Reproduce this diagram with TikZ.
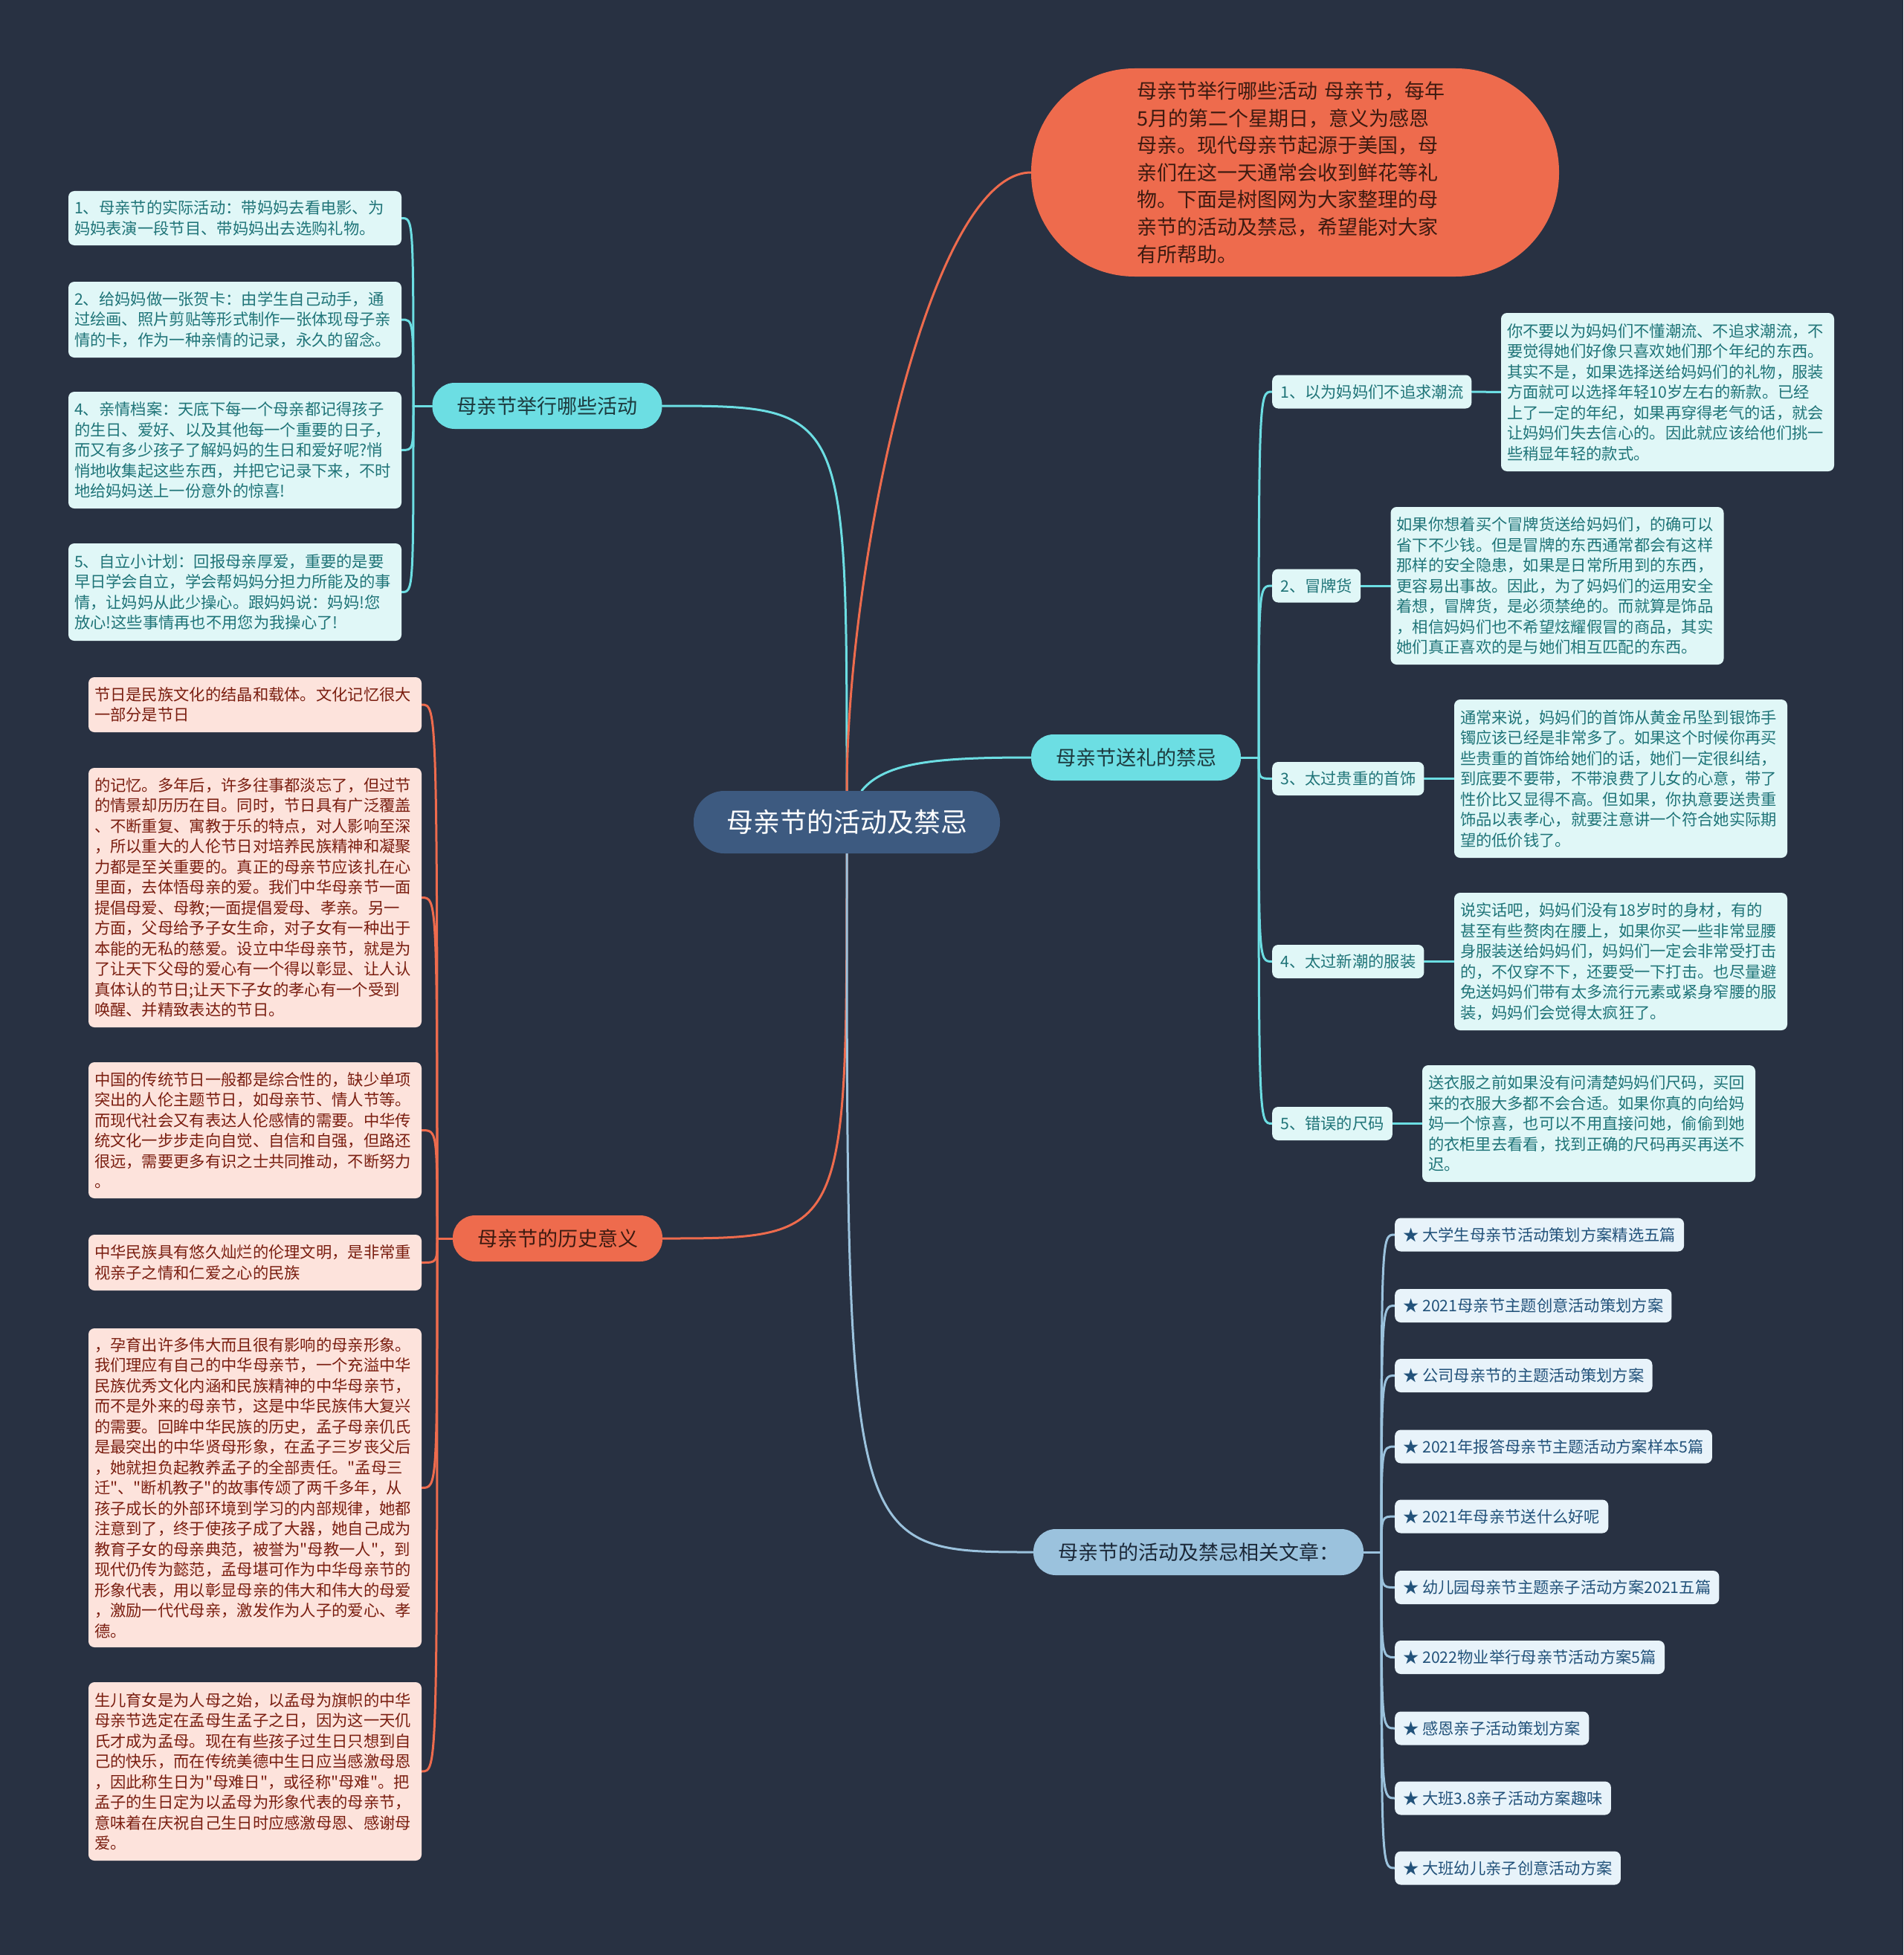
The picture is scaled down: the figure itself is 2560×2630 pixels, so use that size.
\documentclass[tikz,border=0pt]{standalone}
\usepackage{fontspec}
\setmainfont{Noto Sans CJK SC}[Ligatures=TeXOff]
\definecolor{bgc}{HTML}{283142}
\definecolor{centerfill}{HTML}{3D5A80}
\definecolor{cyanB}{HTML}{6CDEE3}
\definecolor{cyanT}{HTML}{1C3A3E}
\definecolor{leafCfill}{HTML}{E0F7F7}
\definecolor{leafCtext}{HTML}{1F7478}
\definecolor{orangeB}{HTML}{EE6B4D}
\definecolor{orangeT}{HTML}{3D1A10}
\definecolor{leafOfill}{HTML}{FDE3DC}
\definecolor{leafOtext}{HTML}{7A1E10}
\definecolor{blueB}{HTML}{9BC2DD}
\definecolor{blueT}{HTML}{1B2838}
\definecolor{artfill}{HTML}{E8F3FA}
\definecolor{arttext}{HTML}{22527A}
\pgfdeclarelayer{lines}
\pgfsetlayers{lines,main}
\tikzset{
  conn/.style={line width=3pt, line cap=round},
  lineC/.style={conn, draw=cyanB},
  lineO/.style={conn, draw=orangeB},
  lineB/.style={conn, draw=blueB},
  mainnode/.style={fill=centerfill, text=white, rounded corners=41pt, minimum height=84pt, inner xsep=44pt, inner ysep=0pt, font=\fontsize{36}{40}\selectfont},
  pill/.style={rounded corners=30pt, minimum height=62pt, inner xsep=33pt, inner ysep=0pt, font=\fontsize{27}{30}\selectfont},
  branchC/.style={pill, fill=cyanB, text=cyanT},
  branchO/.style={pill, fill=orangeB, text=orangeT},
  branchB/.style={pill, fill=blueB, text=blueT},
  bubble/.style={fill=orangeB, text=orangeT, rounded corners=139pt, minimum width=710pt, minimum height=280pt, text width=425pt, align=left, inner sep=0pt, font=\fontsize{27}{36.6}\selectfont},
  leafbox/.style={rounded corners=8pt, text width=432pt, align=left, inner xsep=8pt, inner ysep=0pt, font=\fontsize{21.3}{27.5}\selectfont},
  leafC/.style={leafbox, fill=leafCfill, text=leafCtext},
  leafO/.style={leafbox, fill=leafOfill, text=leafOtext},
  smallbox/.style={rounded corners=8pt, inner xsep=11pt, inner ysep=0pt, minimum height=45pt, anchor=west, font=\fontsize{21.3}{25}\selectfont},
  subC/.style={smallbox, fill=leafCfill, text=leafCtext},
  artB/.style={smallbox, fill=artfill, text=arttext},
}
\begin{document}
\begin{tikzpicture}[x=1pt,y=-1pt]
% ---------- nodes ----------
\node[mainnode] (c) at (1139,1106) {母亲节的活动及禁忌};

\node[bubble] (bub) at (1742,232) {母亲节举行哪些活动 母亲节，每年\\5月的第二个星期日，意义为感恩\\母亲。现代母亲节起源于美国，母\\亲们在这一天通常会收到鲜花等礼\\物。下面是树图网为大家整理的母\\亲节的活动及禁忌，希望能对大家\\有所帮助。};

\node[branchC] (b1) at (736,546) {母亲节举行哪些活动};
\node[branchC] (b2) at (1528,1019) {母亲节送礼的禁忌};
\node[branchO] (b3) at (750,1666) {母亲节的历史意义};
\node[branchB] (b4) at (1612,2088) {母亲节的活动及禁忌相关文章：};

% left cyan leaves
\node[leafC, minimum height=73pt] (l1) at (316,293.5) {1、母亲节的实际活动：带妈妈去看电影、为\\妈妈表演一段节目、带妈妈出去选购礼物。};
\node[leafC, minimum height=102pt] (l2) at (316,430) {2、给妈妈做一张贺卡：由学生自己动手，通\\过绘画、照片剪贴等形式制作一张体现母子亲\\情的卡，作为一种亲情的记录，永久的留念。};
\node[leafC, minimum height=157pt] (l3) at (316,605.5) {4、亲情档案：天底下每一个母亲都记得孩子\\的生日、爱好、以及其他每一个重要的日子，\\而又有多少孩子了解妈妈的生日和爱好呢?悄\\悄地收集起这些东西，并把它记录下来，不时\\地给妈妈送上一份意外的惊喜!};
\node[leafC, minimum height=131pt] (l4) at (316,796.5) {5、自立小计划：回报母亲厚爱，重要的是要\\早日学会自立，学会帮妈妈分担力所能及的事\\情，让妈妈从此少操心。跟妈妈说：妈妈!您\\放心!这些事情再也不用您为我操心了!};

% left orange leaves
\node[leafO, minimum height=74pt] (o1) at (343,948) {节日是民族文化的结晶和载体。文化记忆很大\\一部分是节日};
\node[leafO, minimum height=349pt] (o2) at (343,1207.5) {的记忆。多年后，许多往事都淡忘了，但过节\\的情景却历历在目。同时，节日具有广泛覆盖\\、不断重复、寓教于乐的特点，对人影响至深\\，所以重大的人伦节日对培养民族精神和凝聚\\力都是至关重要的。真正的母亲节应该扎在心\\里面，去体悟母亲的爱。我们中华母亲节一面\\提倡母爱、母教;一面提倡爱母、孝亲。另一\\方面，父母给予子女生命，对子女有一种出于\\本能的无私的慈爱。设立中华母亲节，就是为\\了让天下父母的爱心有一个得以彰显、让人认\\真体认的节日;让天下子女的孝心有一个受到\\唤醒、并精致表达的节日。};
\node[leafO, minimum height=183pt] (o3) at (343,1520.5) {中国的传统节日一般都是综合性的，缺少单项\\突出的人伦主题节日，如母亲节、情人节等。\\而现代社会又有表达人伦感情的需要。中华传\\统文化一步步走向自觉、自信和自强，但路还\\很远，需要更多有识之士共同推动，不断努力\\。};
\node[leafO, minimum height=75pt] (o4) at (343,1698.5) {中华民族具有悠久灿烂的伦理文明，是非常重\\视亲子之情和仁爱之心的民族};
\node[leafO, minimum height=429pt] (o5) at (343,2001.5) {，孕育出许多伟大而且很有影响的母亲形象。\\我们理应有自己的中华母亲节，一个充溢中华\\民族优秀文化内涵和民族精神的中华母亲节，\\而不是外来的母亲节，这是中华民族伟大复兴\\的需要。回眸中华民族的历史，孟子母亲仉氏\\是最突出的中华贤母形象，在孟子三岁丧父后\\，她就担负起教养孟子的全部责任。"孟母三\\迁"、"断机教子"的故事传颂了两千多年，从\\孩子成长的外部环境到学习的内部规律，她都\\注意到了，终于使孩子成了大器，她自己成为\\教育子女的母亲典范，被誉为"母教一人"，到\\现代仍传为懿范，孟母堪可作为中华母亲节的\\形象代表，用以彰显母亲的伟大和伟大的母爱\\，激励一代代母亲，激发作为人子的爱心、孝\\德。};
\node[leafO, minimum height=240pt] (o6) at (343,2383) {生儿育女是为人母之始，以孟母为旗帜的中华\\母亲节选定在孟母生孟子之日，因为这一天仉\\氏才成为孟母。现在有些孩子过生日只想到自\\己的快乐，而在传统美德中生日应当感激母恩\\，因此称生日为"母难日"，或径称"母难"。把\\孟子的生日定为以孟母为形象代表的母亲节，\\意味着在庆祝自己生日时应感激母恩、感谢母\\爱。};

% right cyan sub-branches
\node[subC] (s1) at (1711,527) {1、以为妈妈们不追求潮流};
\node[subC] (s2) at (1711,788) {2、冒牌货};
\node[subC] (s3) at (1711,1047.5) {3、太过贵重的首饰};
\node[subC] (s4) at (1711,1293.5) {4、太过新潮的服装};
\node[subC] (s5) at (1711,1511.5) {5、错误的尺码};

% detail boxes
\node[leafC, minimum height=213pt] (d1) at (2243,527.5) {你不要以为妈妈们不懂潮流、不追求潮流，不\\要觉得她们好像只喜欢她们那个年纪的东西。\\其实不是，如果选择送给妈妈们的礼物，服装\\方面就可以选择年轻10岁左右的新款。已经\\上了一定的年纪，如果再穿得老气的话，就会\\让妈妈们失去信心的。因此就应该给他们挑一\\些稍显年轻的款式。};
\node[leafC, minimum height=212pt] (d2) at (2094.5,788) {如果你想着买个冒牌货送给妈妈们，的确可以\\省下不少钱。但是冒牌的东西通常都会有这样\\那样的安全隐患，如果是日常所用到的东西，\\更容易出事故。因此，为了妈妈们的运用安全\\着想，冒牌货，是必须禁绝的。而就算是饰品\\，相信妈妈们也不希望炫耀假冒的商品，其实\\她们真正喜欢的是与她们相互匹配的东西。};
\node[leafC, minimum height=213pt] (d3) at (2180,1047.5) {通常来说，妈妈们的首饰从黄金吊坠到银饰手\\镯应该已经是非常多了。如果这个时候你再买\\些贵重的首饰给她们的话，她们一定很纠结，\\到底要不要带，不带浪费了儿女的心意，带了\\性价比又显得不高。但如果，你执意要送贵重\\饰品以表孝心，就要注意讲一个符合她实际期\\望的低价钱了。};
\node[leafC, minimum height=185pt] (d4) at (2180,1293.5) {说实话吧，妈妈们没有18岁时的身材，有的\\甚至有些赘肉在腰上，如果你买一些非常显腰\\身服装送给妈妈们，妈妈们一定会非常受打击\\的，不仅穿不下，还要受一下打击。也尽量避\\免送妈妈们带有太多流行元素或紧身窄腰的服\\装，妈妈们会觉得太疯狂了。};
\node[leafC, minimum height=157pt] (d5) at (2137,1511.5) {送衣服之前如果没有问清楚妈妈们尺码，买回\\来的衣服大多都不会合适。如果你真的向给妈\\妈一个惊喜，也可以不用直接问她，偷偷到她\\的衣柜里去看看，找到正确的尺码再买再送不\\迟。};

% articles
\node[artB] (a1) at (1876,1661) {★ 大学生母亲节活动策划方案精选五篇};
\node[artB] (a2) at (1876,1756.5) {★ 2021母亲节主题创意活动策划方案};
\node[artB] (a3) at (1876,1850.5) {★ 公司母亲节的主题活动策划方案};
\node[artB] (a4) at (1876,1946) {★ 2021年报答母亲节主题活动方案样本5篇};
\node[artB] (a5) at (1876,2040) {★ 2021年母亲节送什么好呢};
\node[artB] (a6) at (1876,2135.5) {★ 幼儿园母亲节主题亲子活动方案2021五篇};
\node[artB] (a7) at (1876,2229.5) {★ 2022物业举行母亲节活动方案5篇};
\node[artB] (a8) at (1876,2325) {★ 感恩亲子活动策划方案};
\node[artB] (a9) at (1876,2419) {★ 大班3.8亲子活动方案趣味};
\node[artB] (a10) at (1876,2513) {★ 大班幼儿亲子创意活动方案};

% junction points
\coordinate (j1) at (556,546);
\coordinate (j3) at (588,1666);
\coordinate (j2) at (1693,1019);
\coordinate (j4) at (1858,2088);

% ---------- connectors ----------
\begin{pgfonlayer}{lines}
\fill[bgc] (0,0) rectangle (2560,2630);
\draw[lineC] (c.north) .. controls (c.north |- b1.east) .. (b1.east);
\draw[lineO] (c.north) .. controls (1139,760) and (1250,232) .. (bub.west);
\draw[lineC] ([xshift=20pt]c.north) .. controls (1190,1025) and (1260,1019) .. (b2.west);
\draw[lineO] (c.south) .. controls (c.south |- b3.east) .. (b3.east);
\draw[lineB] (c.south) .. controls (c.south |- b4.west) .. (b4.west);

\draw[lineC] (b1.west) -- (j1);
\foreach \n in {l1,l2,l3,l4}
  \draw[lineC] (j1) .. controls (j1 |- \n.east) .. (\n.east);

\draw[lineO] (b3.west) -- (j3);
\foreach \n in {o1,o2,o3,o4,o5,o6}
  \draw[lineO] (j3) .. controls (j3 |- \n.east) .. (\n.east);

\draw[lineC] (b2.east) -- (j2);
\foreach \n in {s1,s2,s3,s4,s5}
  \draw[lineC] (j2) .. controls (j2 |- \n.west) .. (\n.west);
\draw[lineC] (s1.east) -- (d1.west);
\draw[lineC] (s2.east) -- (d2.west);
\draw[lineC] (s3.east) -- (d3.west);
\draw[lineC] (s4.east) -- (d4.west);
\draw[lineC] (s5.east) -- (d5.west);

\draw[lineB] (b4.east) -- (j4);
\foreach \n in {a1,a2,a3,a4,a5,a6,a7,a8,a9,a10}
  \draw[lineB] (j4) .. controls (j4 |- \n.west) .. (\n.west);
\end{pgfonlayer}
\end{tikzpicture}
\end{document}
